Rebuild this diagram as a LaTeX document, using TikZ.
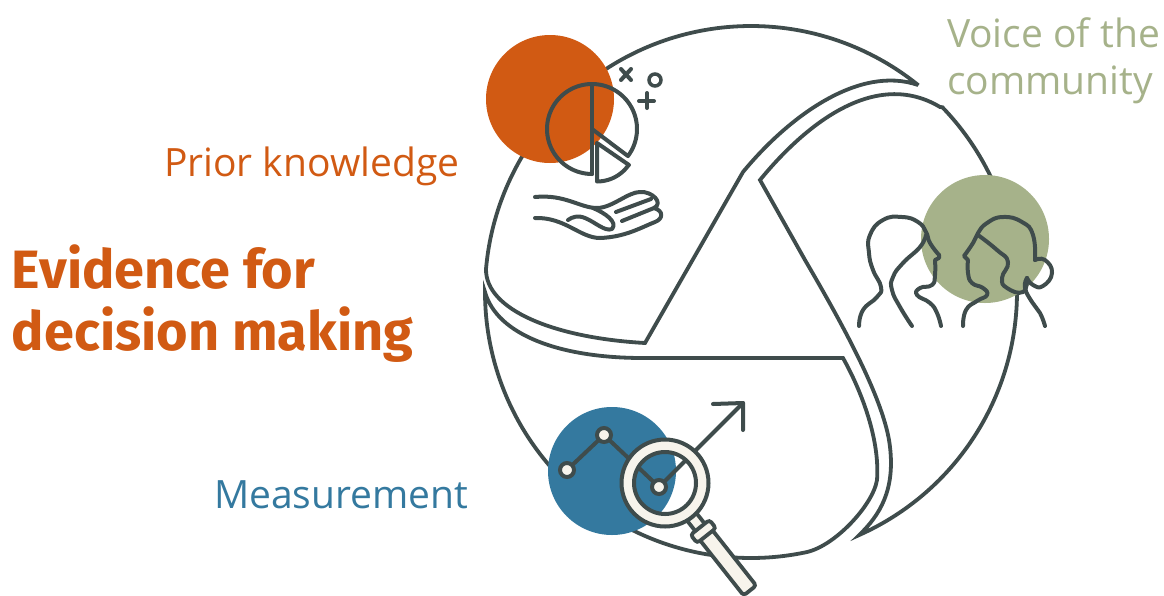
\documentclass[tikz,border=0pt]{standalone}
\usepackage{fontspec}
\setmainfont{Open Sans}
\newfontfamily\headfont{Fira Sans}
\definecolor{inkc}{HTML}{3F4C4C}
\definecolor{orangec}{HTML}{D15A13}
\definecolor{bluec}{HTML}{34799F}
\definecolor{greenc}{HTML}{A6B28A}
\definecolor{creamc}{HTML}{F7F4EC}
\tikzset{
  ring/.style={line width=3.8pt,draw=inkc,line join=miter,miter limit=14},
  icon/.style={line width=4pt,draw=inkc,line cap=round,line join=round},
  fluid/.style={smooth,tension=0.85},
  label/.style={inner sep=0pt,outer sep=0pt,anchor=base west,font=\fontsize{39}{46}\selectfont},
  head/.style={inner sep=0pt,outer sep=0pt,anchor=base west,text=orangec,font=\headfont\bfseries\fontsize{54}{60}\selectfont}
}
\begin{document}
\begin{tikzpicture}[x=1pt,y=-1pt]
\useasboundingbox (0,0) rectangle (1164,595);
% the three segments of the ring
\draw[ring] plot[domain=-51:-175,samples=90,smooth,variable=\a] ({751+266*cos(\a)},{292+266*sin(\a)})
  .. controls (485,310) and (555,338) .. (645,343)
  -- (743,172)
  .. controls (790,115) and (860,65) .. (918,85) -- cycle;
\draw[ring] (760,180) .. controls (805,125) and (875,68) .. (940,107)
  -- plot[domain=-44:66,samples=90,smooth,variable=\a] ({751+266*cos(\a)},{292+266*sin(\a)})
  .. controls (880,515) and (895,490) .. (890,447)
  .. controls (885,400) and (840,320) .. (805,260) -- cycle;
\draw[ring] plot[domain=180:78,samples=90,smooth,variable=\a] ({751+266*cos(\a)},{292+266*sin(\a)})
  .. controls (835,546) and (873,505) .. (877,480)
  .. controls (880,440) and (862,392) .. (843,358)
  -- (643,358)
  .. controls (560,358) and (497,335) .. (485,292) -- cycle;
% discs
\fill[orangec] (550,99) circle[radius=64pt];
\fill[greenc] (985,239) circle[radius=64pt];
\fill[bluec] (612,471) circle[radius=64pt];
% pie
\draw[icon] (592,84) -- (592,174);
\draw[icon] plot[domain=90:397,samples=80,smooth,variable=\a] ({592+45*cos(\a)},{129+45*sin(\a)}) -- (592,129);
\draw[icon] (597,143) -- (629,165) plot[domain=34.5:90,samples=20,smooth,variable=\a] ({597+38.5*cos(\a)},{143+38.5*sin(\a)}) -- (597,143);
% signs
\draw[icon] (621,69) -- (631,80) (631,69) -- (621,80);
\draw[line width=3.5pt,draw=inkc] (655,80) circle[radius=6pt];
\draw[icon] (639,101) -- (654,101) (647,93) -- (647,108);
% hand
\draw[icon] (535,197) .. controls (565,194) and (580,208) .. (597,208)
  .. controls (612,208) and (628,192) .. (640,192)
  .. controls (652,191) and (664,203) .. (654,208)
  .. controls (664,211) and (663,219) .. (655,222)
  .. controls (640,228) and (625,237) .. (600,238)
  .. controls (580,238) and (565,217) .. (535,218);
\draw[icon] (616,212) -- (651,199) (622,221) -- (654,208);
\draw[icon] (593,208) .. controls (605,213) and (618,222) .. (612,229)
  .. controls (605,232) and (595,222) .. (585,218)
  .. controls (578,215) and (572,217) .. (568,220);
% people
\draw[icon] plot[fluid] coordinates {(859,326)(863,310)(877,297)(881,287)(873,270)(869,253)(870,235)(883,220)(902,217)(918,222)(926,232)(930,243)(939,255)};
\draw[icon] (939,255) -- (939,258) -- (935,260) -- plot[fluid] coordinates {(935,260)(935,275)(932,285)(920,288)(917,295)(930,303)(937,313)(941,326)};
\draw[icon] plot[fluid] coordinates {(926,235)(920,247)(903,263)(893,277)(892,290)(900,307)(912,326)};
\draw[icon] plot[fluid] coordinates {(963,326)(966,310)(977,301)(987,295)(983,288)(972,283)(968,273)(968,260)} -- (964,256) -- plot[fluid] coordinates {(964,256)(973,243)(978,233)(987,223)(1003,217)(1022,222)(1033,235)(1035,260)};
\draw[icon] plot[fluid] coordinates {(1035,260)(1045,260)(1052,273)(1043,286)(1033,285)(1027,278)};
\draw[icon] plot[fluid] coordinates {(1027,278)(1025,288)(1032,302)(1040,313)(1045,326)};
\draw[icon] plot[fluid] coordinates {(978,235)(997,250)(1008,262)(1002,278)(1007,288)(1023,292)(1027,278)};
% chart and arrow
\draw[icon] (567,470) -- (604,435) -- (659,487) -- (743,403);
\draw[icon] (713,404) -- (743,403) -- (743,430);
\foreach \px/\py in {567/470,604/435,659/487}
  \draw[line width=4pt,draw=inkc,fill=creamc] (\px,\py) circle[radius=7pt];
% magnifier
\begin{scope}[shift={(665,483)},rotate=-51.7]
  \draw[ring,fill=creamc,rounded corners=3pt] (66,-8) rectangle (137,8);
  \draw[ring,fill=creamc] (42,-6) rectangle (57,6);
  \draw[ring,fill=creamc,rounded corners=3pt] (56.5,-12) rectangle (67,12);
\end{scope}
\fill[creamc,even odd rule] (665,483) circle[radius=43.5pt] (665,483) circle[radius=31pt];
\draw[line width=4pt,draw=inkc] (665,483) circle[radius=43.5pt] (665,483) circle[radius=31pt];
% labels
\node[label,text=greenc] (voice) at (947,47) {Voice of the};
\node[label,text=greenc] (community) at (947,94) {community};
\node[label,text=orangec] (prior) at (164,176) {Prior knowledge};
\node[label,text=bluec] (measure) at (214,508) {Measurement};
\node[head] (evidence) at (12,288) {Evidence for};
\node[head] (decision) at (12,350) {decision making};
\end{tikzpicture}
\end{document}
